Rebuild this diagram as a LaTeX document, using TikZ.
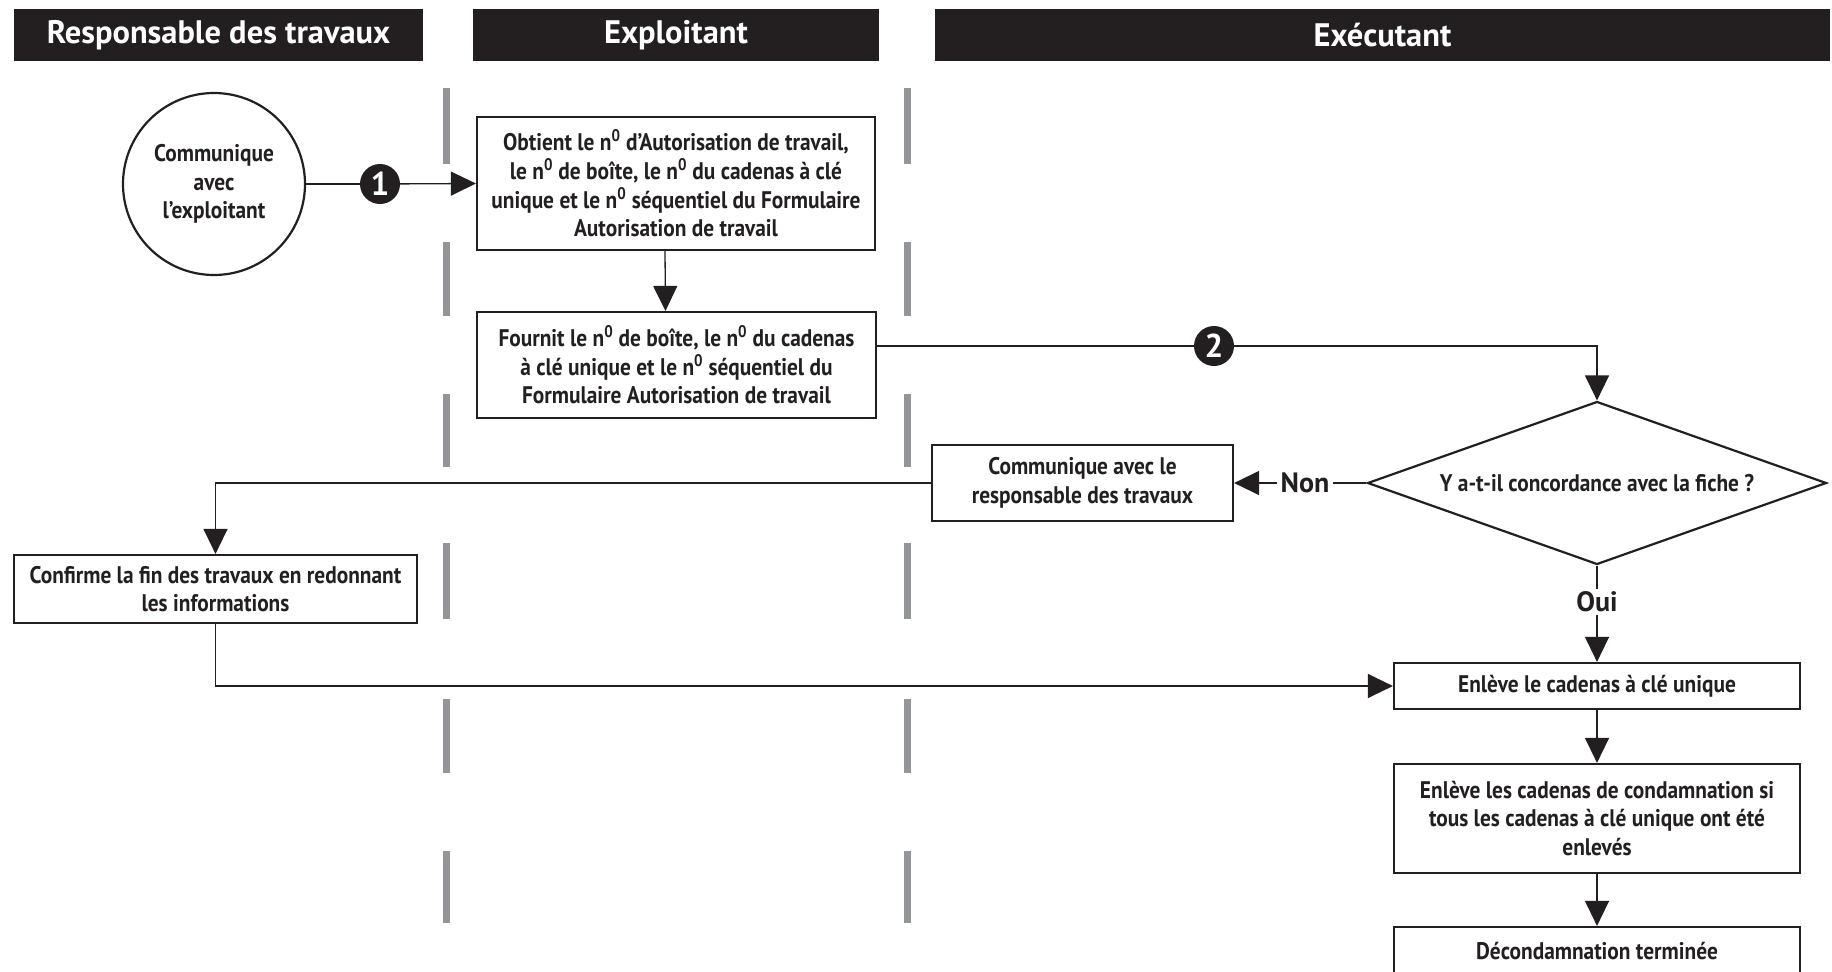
\documentclass[tikz,border=0pt]{standalone}
\usepackage{fontspec}
\setmainfont{PT Sans}
\newfontfamily\condf{PT Sans}[FakeStretch=0.89]
\usetikzlibrary{arrows.meta,shapes.geometric,calc}
\definecolor{ink}{HTML}{231F20}
\definecolor{lanegray}{HTML}{939598}
\newcommand\nsup{n\textsuperscript{0}}
\tikzset{
 hdr/.style={fill=ink,text=white,font=\bfseries\fontsize{32.5}{36}\selectfont,inner sep=0,minimum height=52},
 box/.style={draw=ink,line width=2.2pt,fill=white,align=center,text=ink,font=\condf\bfseries\fontsize{24}{28.6}\selectfont,inner sep=0},
 conn/.style={draw=ink,line width=1.3pt},
 arr/.style={conn,-{Triangle[length=25pt,width=24pt]}},
 badge/.style={circle,fill=ink,text=white,inner sep=0,minimum size=40,font=\bfseries\fontsize{33}{33}\selectfont},
 lbl/.style={text=ink,font=\bfseries\fontsize{28}{28}\selectfont,inner sep=3pt},
 lane/.style={draw=lanegray,line width=7pt},
}
\begin{document}
\begin{tikzpicture}[x=1pt,y=-1pt]
\useasboundingbox (0,0) rectangle (1832,972);
% headers
\node[hdr,minimum width=409] (h1) at (218.5,35) {Responsable des travaux};
\node[hdr,minimum width=406] (h2) at (676,35) {Exploitant};
\node[hdr,minimum width=895] (h3) at (1382.5,35) {Exécutant};
% lane dividers
\foreach \x in {446,907}
  \foreach \a/\b in {88/164,242/316,394/467,543/619,699/773,851/923}
    \draw[lane] (\x,\a) -- (\x,\b);
% nodes
\node[box,circle,minimum size=182] (c1) at (214,184) {Communique\\avec\\l’exploitant};
\node[box,minimum width=398,minimum height=133] (b1) at (676,183.5) {Obtient le \nsup{} d’Autorisation de travail,\\le \nsup{} de boîte, le \nsup{} du cadenas à clé\\unique et le \nsup{} séquentiel du Formulaire\\Autorisation de travail};
\node[box,minimum width=399,minimum height=106] (b2) at (676.5,365) {Fournit le \nsup{} de boîte, le \nsup{} du cadenas\\à clé unique et le \nsup{} séquentiel du\\Formulaire Autorisation de travail};
\node[box,diamond,aspect=2.816,minimum width=459,minimum height=163] (d) at (1597,483) {Y a-t-il concordance avec la fiche ?};
\node[box,minimum width=301,minimum height=76] (b3) at (1082.5,483) {Communique avec le\\responsable des travaux};
\node[box,minimum width=403,minimum height=68] (b4) at (215.5,589) {Confirme la fin des travaux en redonnant\\les informations};
\node[box,minimum width=406,minimum height=46] (b5) at (1597,686) {Enlève le cadenas à clé unique};
\node[box,minimum width=406,minimum height=109] (b6) at (1597,818.5) {Enlève les cadenas de condamnation si\\tous les cadenas à clé unique ont été\\enlevés};
\node[box,minimum width=406,minimum height=48] (b7) at (1597,951) {Décondamnation terminée};
% badges and labels
\node[badge] (n1) at (380,184) {1};
\node[badge] (n2) at (1214,346) {2};
\node[lbl] (non) at (1305,483) {Non};
\node[lbl] (oui) at (1597,602) {Oui};
% connectors
\draw[conn] (c1.east) -- (n1);
\draw[arr] (n1) -- (b1.west);
\draw[arr] ([xshift=-11pt]b1.south) -- ([xshift=-11pt]b2.north);
\coordinate (p2) at ([yshift=19pt]b2.east);
\draw[conn] (p2) -- (n2);
\draw[arr] (n2) -| (d.north);
\draw[conn] (d.west) -- (non);
\draw[arr] (non) -- (b3.east);
\draw[arr] (b3.west) -| (b4.north);
\draw[arr] (b4.south) |- (b5.west);
\draw[conn] (d.south) -- (oui);
\draw[arr] (oui) -- (b5.north);
\draw[arr] (b5) -- (b6);
\draw[arr] (b6) -- (b7);
\end{tikzpicture}
\end{document}
